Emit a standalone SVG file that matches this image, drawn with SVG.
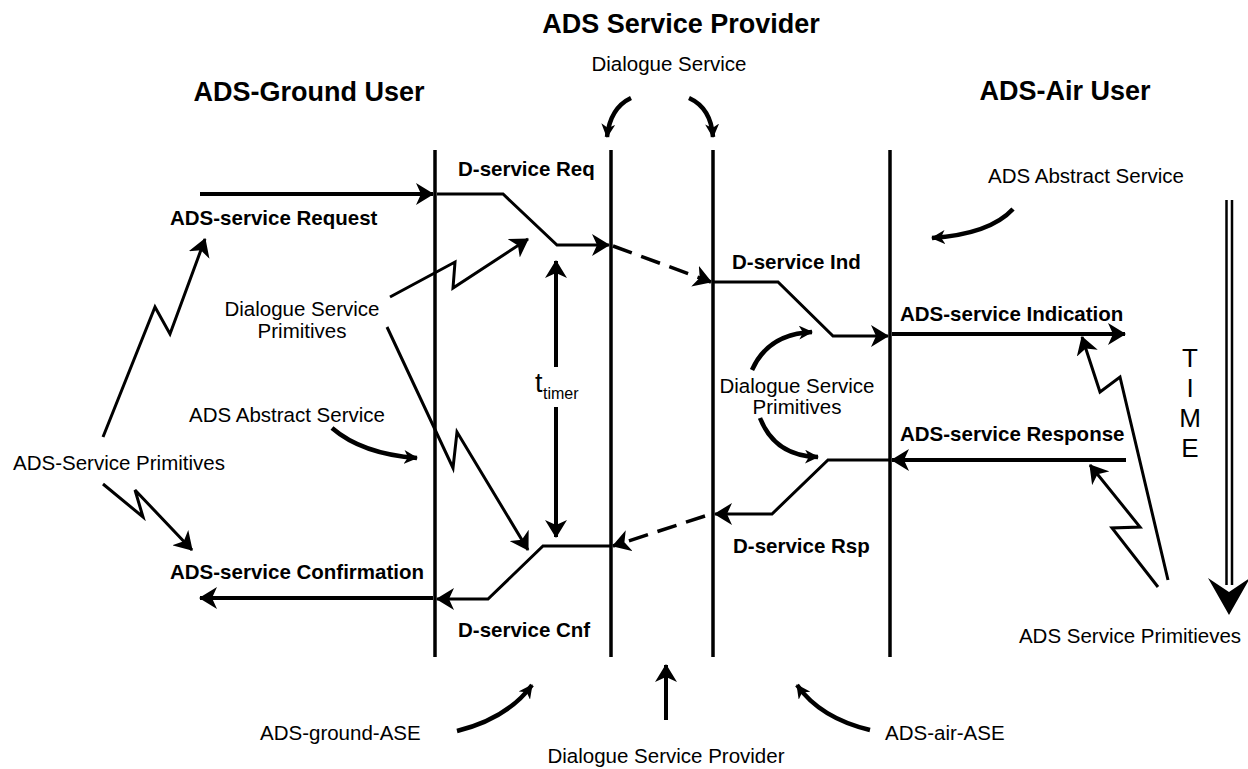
<svg xmlns="http://www.w3.org/2000/svg" width="1248" height="769" viewBox="0 0 1248 769">
<style>
text{font-family:"Liberation Sans",Arial,sans-serif;fill:#000}
.t{font-size:27px;font-weight:bold}
.b{font-size:20.5px;font-weight:bold}
.r{font-size:20.5px}
.ll{stroke:#000;stroke-width:3.5;fill:none}
.ar{stroke:#000;stroke-width:4;fill:none;marker-end:url(#ah)}
.pa{stroke:#000;stroke-width:3;fill:none;stroke-linejoin:miter;marker-end:url(#ah)}
.da{stroke:#000;stroke-width:3.5;fill:none;stroke-dasharray:20 10;marker-end:url(#ah)}
.zz{stroke:#000;stroke-width:3;fill:none;stroke-linejoin:miter;marker-end:url(#ah)}
.cv{stroke:#000;stroke-width:4.5;fill:none;stroke-linecap:butt;marker-end:url(#sh)}
</style>
<defs>
<marker id="ah" markerUnits="userSpaceOnUse" viewBox="0 0 18 22" refX="17" refY="11" markerWidth="18" markerHeight="22" orient="auto">
<path d="M0,0 L18,11 L0,22 L5,11 Z" fill="#000"/>
</marker>
<marker id="sh" markerUnits="userSpaceOnUse" viewBox="0 0 14 14" refX="13" refY="7" markerWidth="14" markerHeight="14" orient="auto">
<path d="M0,0 L14,7 L0,14 L4,7 Z" fill="#000"/>
</marker>
</defs>
<rect width="1248" height="769" fill="#fff"/>

<g id="lifelines">
<line class="ll" x1="435" y1="150" x2="435" y2="657"/>
<line class="ll" x1="611" y1="150" x2="611" y2="657"/>
<line class="ll" x1="713" y1="150" x2="713" y2="657"/>
<line class="ll" x1="890" y1="150" x2="890" y2="657"/>
</g>

<g id="title-provider"><text class="t" x="681" y="33" text-anchor="middle">ADS Service Provider</text></g>
<g id="title-ground"><text class="t" x="309" y="101" text-anchor="middle">ADS-Ground User</text></g>
<g id="title-air"><text class="t" x="1065" y="100" text-anchor="middle">ADS-Air User</text></g>
<g id="lbl-dialogue-service"><text class="r" x="669" y="71" text-anchor="middle">Dialogue Service</text></g>
<g id="lbl-dreq"><text class="b" x="458" y="176">D-service Req</text></g>
<g id="lbl-request"><text class="b" x="170" y="225">ADS-service Request</text></g>
<g id="lbl-abs-right"><text class="r" x="1086" y="183" text-anchor="middle">ADS Abstract Service</text></g>
<g id="lbl-dind"><text class="b" x="732" y="269">D-service Ind</text></g>
<g id="lbl-indication"><text class="b" x="900" y="321">ADS-service Indication</text></g>
<g id="lbl-response"><text class="b" x="900" y="441">ADS-service Response</text></g>
<g id="lbl-dsp-left"><text class="r" x="302" y="316" text-anchor="middle">Dialogue Service</text><text class="r" x="302" y="338" text-anchor="middle">Primitives</text></g>
<g id="lbl-dsp-right"><text class="r" x="797" y="393" text-anchor="middle">Dialogue Service</text><text class="r" x="797" y="414" text-anchor="middle">Primitives</text></g>
<g id="lbl-timer"><text x="535" y="392" style="font-size:27px">t</text><text x="543" y="399" style="font-size:16px">timer</text></g>
<g id="lbl-abs-left"><text class="r" x="287" y="422" text-anchor="middle">ADS Abstract Service</text></g>
<g id="lbl-asp-left"><text class="r" x="119" y="470" text-anchor="middle">ADS-Service Primitives</text></g>
<g id="lbl-confirmation"><text class="b" x="170" y="579">ADS-service Confirmation</text></g>
<g id="lbl-drsp"><text class="b" x="733" y="553">D-service Rsp</text></g>
<g id="lbl-dcnf"><text class="b" x="458" y="637">D-service Cnf</text></g>
<g id="lbl-asp-right"><text class="r" x="1130" y="643" text-anchor="middle">ADS Service Primitieves</text></g>
<g id="lbl-ground-ase"><text class="r" x="260" y="740">ADS-ground-ASE</text></g>
<g id="lbl-air-ase"><text class="r" x="885" y="740">ADS-air-ASE</text></g>
<g id="lbl-dsprov"><text class="r" x="666" y="763" text-anchor="middle">Dialogue Service Provider</text></g>
<g id="lbl-time"><text x="1190" y="367" text-anchor="middle" style="font-size:26px">T</text><text x="1190" y="397" text-anchor="middle" style="font-size:26px">I</text><text x="1190" y="427" text-anchor="middle" style="font-size:26px">M</text><text x="1190" y="457" text-anchor="middle" style="font-size:26px">E</text></g>

<g id="connectors">
<path class="ar" d="M200,194 L433,194"/>
<path class="pa" d="M437,194 L503,194 L557,245 L609,245"/>
<path class="da" d="M613,246 L711,282"/>
<path class="pa" d="M713,282 L778,282 L833,336 L888,336"/>
<path class="ar" d="M892,334 L1125,334"/>
<path class="ar" d="M1126,460 L892,460"/>
<path class="pa" d="M890,460 L828,460 L772,514 L715,514"/>
<path class="da" d="M705,516 L613,546"/>
<path class="pa" d="M611,546 L543,546 L488,599 L437,599"/>
<path class="ar" d="M433,598 L200,598"/>
<path class="ar" d="M556,367 L556,261"/>
<path class="ar" d="M556,407 L556,537"/>
<path class="zz" d="M103,437 L155,307 L170,334 L205,239"/>
<path class="zz" d="M103,484 L143,517 L135,490 L192,550"/>
<path class="zz" d="M390,297 L455,262 L453,288 L528,239"/>
<path class="zz" d="M387,327 L453,468 L457,432 L528,550"/>
<path class="zz" d="M1168,580 L1120,377 L1100,392 L1082,337"/>
<path class="zz" d="M1158,587 L1112,528 L1140,527 L1090,465"/>
<path class="cv" d="M631,98 Q610,108 607,137"/>
<path class="cv" d="M689,98 Q711,108 713,137"/>
<path class="cv" d="M1013,209 Q990,234 932,238"/>
<path class="cv" d="M332,428 Q362,454 417,458"/>
<path class="cv" d="M752,370 Q768,334 812,332"/>
<path class="cv" d="M760,418 Q775,456 818,457"/>
<path class="cv" d="M457,731 Q508,718 532,685"/>
<path class="cv" d="M870,730 Q820,718 797,685"/>
<path class="ar" d="M666,720 L666,665"/>
<line x1="1226.5" y1="200" x2="1226.5" y2="585" stroke="#000" stroke-width="2.5"/>
<line x1="1232" y1="200" x2="1232" y2="585" stroke="#000" stroke-width="2.5"/>
<path d="M1208,578 L1229,615 L1250,578 L1229,592 Z" fill="#000"/>
</g>
</svg>
